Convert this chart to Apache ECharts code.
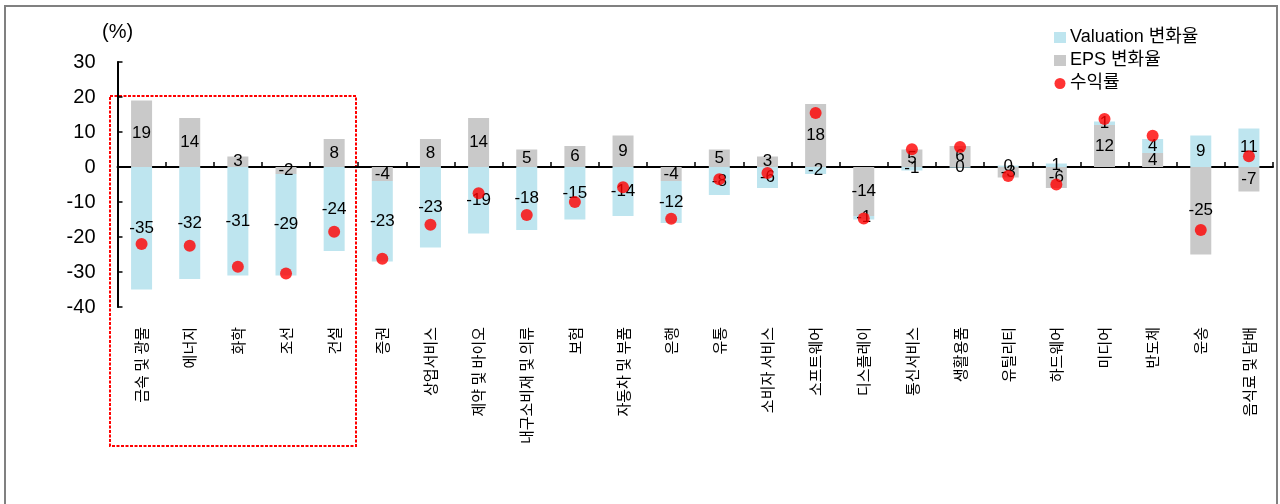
<!DOCTYPE html>
<html>
<head>
<meta charset="utf-8">
<script src="https://cdn.jsdelivr.net/npm/echarts@6/dist/echarts.min.js"></script>
<style>
  html, body { margin: 0; padding: 0; background: #fff; }
  #chart { width: 1280px; height: 504px; }
</style>
</head>
<body>
<div id="chart"></div>
<script>
// Sector names (x axis)
const categories = [
  '금속 및 광물', '에너지', '화학', '조선', '건설', '증권', '상업서비스',
  '제약 및 바이오', '내구소비재 및 의류', '보험', '자동차 및 부품', '은행',
  '유통', '소비자 서비스', '소프트웨어', '디스플레이', '통신서비스', '생활용품',
  '유틸리티', '하드웨어', '미디어', '반도체', '운송', '음식료 및 담배'
];

// Change in valuation (%)
const valuationChange = [
  -35, -32, -31, -29, -24, -23, -23, -19, -18, -15, -14, -12,
  -8, -6, -2, -1, -1, -0.2, 0.4, 1, 1, 4, 9, 11
];

// Change in EPS (%)
const epsChange = [
  19, 14, 3, -2, 8, -4, 8, 14, 5, 6, 9, -4,
  5, 3, 18, -14, 5, 6, -3, -6, 12, 4, -25, -7
];

// Return (%)
const returns = [
  -22, -22.5, -28.5, -30.4, -18.5, -26.2, -16.5, -7.5, -13.7, -10, -5.8, -14.8,
  -3.5, -1.7, 15.4, -14.7, 5.1, 5.7, -2.6, -5, 13.7, 8.9, -18, 3.1
];

const yTicks = { min: -40, max: 30, interval: 10 };

const latinFont = "'Liberation Sans', 'Noto Sans CJK KR', Arial, sans-serif";
const koreanFont = "'Noto Sans CJK KR', 'Liberation Sans', sans-serif";

const chart = echarts.init(document.getElementById('chart'), null, { renderer: 'canvas' });

// Bar values are shown as whole percentages
const barLabel = {
  show: true,
  position: 'inside',
  color: '#000',
  fontSize: 17,
  fontFamily: latinFont,
  formatter: p => String(Math.round(p.value) || 0)
};

chart.setOption({
  animation: false,
  backgroundColor: '#fff',
  grid: { left: 117.5, right: 7, top: 62, bottom: 197, containLabel: false },
  legend: {
    orient: 'vertical',
    left: 1054,
    top: 28.5,
    padding: 0,
    itemWidth: 12,
    itemHeight: 11,
    itemGap: 5,
    data: [
      { name: 'Valuation 변화율', icon: 'rect' },
      { name: 'EPS 변화율', icon: 'rect' },
      { name: '수익률', icon: 'circle' }
    ],
    textStyle: { fontSize: 18, color: '#000', fontFamily: latinFont, lineHeight: 18, padding: [0, 0, 0, -1] }
  },
  xAxis: [
    {
      type: 'category',
      data: categories,
      position: 'bottom',
      axisLine: { show: true, onZero: true, lineStyle: { color: '#000', width: 2 } },
      axisTick: { show: true, inside: true, length: 5, interval: 0, lineStyle: { color: '#000', width: 1.5 } },
      axisLabel: { show: false, interval: 0 },
      splitLine: { show: false }
    },
    {
      type: 'category',
      data: categories,
      position: 'bottom',
      axisLine: { show: false, onZero: false },
      axisTick: { show: false },
      axisLabel: {
        show: true,
        rotate: 90,
        margin: 20,
        interval: 0,
        fontSize: 15,
        color: '#000',
        fontFamily: koreanFont
      },
      splitLine: { show: false }
    }
  ],
  yAxis: {
    type: 'value',
    min: yTicks.min,
    max: yTicks.max,
    interval: yTicks.interval,
    axisLine: { show: true, lineStyle: { color: '#000', width: 2 } },
    axisTick: { show: true, inside: true, length: 5, lineStyle: { color: '#000', width: 1.5 } },
    axisLabel: { fontSize: 20, color: '#000', margin: 22, fontFamily: latinFont },
    splitLine: { show: false }
  },
  series: [
    {
      name: 'EPS 변화율',
      type: 'bar',
      stack: 'total',
      xAxisIndex: 0,
      barWidth: 21,
      data: epsChange,
      itemStyle: { color: '#C9C9C9' },
      label: barLabel,
      z: 2
    },
    {
      name: 'Valuation 변화율',
      type: 'bar',
      stack: 'total',
      xAxisIndex: 0,
      barWidth: 21,
      data: valuationChange,
      itemStyle: { color: '#BEE5EF' },
      label: barLabel,
      z: 2
    },
    {
      name: '수익률',
      type: 'scatter',
      xAxisIndex: 0,
      data: returns,
      symbol: 'circle',
      symbolSize: 12,
      itemStyle: { color: '#FF0000' },
      z: 3
    }
  ],
  graphic: [
    {
      type: 'rect',
      shape: { x: 5, y: 6, width: 1272, height: 530 },
      style: { fill: 'none', stroke: '#808080', lineWidth: 2 },
      silent: true
    },
    {
      type: 'rect',
      shape: { x: 110, y: 96, width: 246, height: 350 },
      style: { fill: 'none', stroke: '#FF0000', lineWidth: 2, lineDash: [3, 1.5] },
      silent: true
    },
    {
      type: 'text',
      left: 102,
      top: 22,
      style: { text: '(%)', fontSize: 20, fill: '#000', fontFamily: latinFont }
    }
  ]
});
</script>
</body>
</html>
